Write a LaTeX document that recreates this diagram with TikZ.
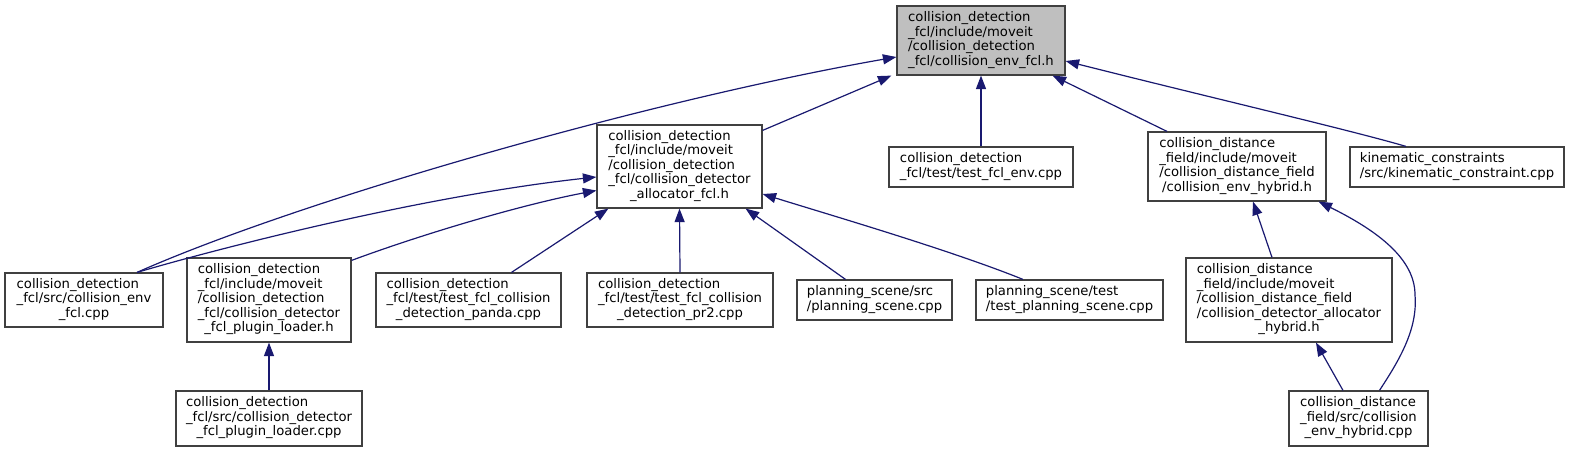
\documentclass[tikz,border=0pt]{standalone}
\usepackage{fontspec}
\setmainfont{DejaVu Sans}
\usetikzlibrary{arrows.meta}
\definecolor{edgecol}{HTML}{191970}
\definecolor{bordercol}{HTML}{404040}
\definecolor{rootfill}{HTML}{BFBFBF}
\newcommand\dlab[2]{\begin{tabular}{@{}l@{}}#1\\\multicolumn{1}{@{}c@{}}{#2}\end{tabular}}
\begin{document}
\begin{tikzpicture}[x=1pt,y=-1pt,
  filebox/.style={draw=bordercol, line width=1.2pt, fill=white, inner sep=0pt, font=\fontsize{13.2}{14.5}\selectfont},
  rootbox/.style={filebox, fill=rootfill},
  dep/.style={draw=edgecol, line width=1.2pt, -{Triangle[length=13.5pt,width=10pt]}}]
\useasboundingbox[fill=white] (0,0) rectangle (1569,452);
% nodes
\node[rootbox, minimum width=168pt, minimum height=69pt] (T) at (981,40.5)
  {\dlab{collision\_detection\\\_fcl/include/moveit\\/collision\_detection}{\_fcl/collision\_env\_fcl.h}};
\node[filebox, minimum width=165pt, minimum height=83pt] (A) at (679.5,166.5)
  {\dlab{collision\_detection\\\_fcl/include/moveit\\/collision\_detection\\\_fcl/collision\_detector}{\_allocator\_fcl.h}};
\node[filebox, minimum width=184pt, minimum height=40pt] (E) at (981,167)
  {\dlab{collision\_detection}{\_fcl/test/test\_fcl\_env.cpp}};
\node[filebox, minimum width=178pt, minimum height=69pt] (H) at (1237,166.5)
  {\dlab{collision\_distance\\\_field/include/moveit\\/collision\_distance\_field}{/collision\_env\_hybrid.h}};
\node[filebox, minimum width=214pt, minimum height=40pt] (K) at (1457,167)
  {\dlab{kinematic\_constraints}{/src/kinematic\_constraint.cpp}};
\node[filebox, minimum width=158pt, minimum height=54pt] (C) at (84,300)
  {\dlab{collision\_detection\\\_fcl/src/collision\_env}{\_fcl.cpp}};
\node[filebox, minimum width=164pt, minimum height=84pt] (P) at (269,300)
  {\dlab{collision\_detection\\\_fcl/include/moveit\\/collision\_detection\\\_fcl/collision\_detector}{\_fcl\_plugin\_loader.h}};
\node[filebox, minimum width=185pt, minimum height=54pt] (PD) at (468.5,300)
  {\dlab{collision\_detection\\\_fcl/test/test\_fcl\_collision}{\_detection\_panda.cpp}};
\node[filebox, minimum width=186pt, minimum height=54pt] (PR) at (680,300)
  {\dlab{collision\_detection\\\_fcl/test/test\_fcl\_collision}{\_detection\_pr2.cpp}};
\node[filebox, minimum width=155pt, minimum height=40pt] (PS) at (874.5,300)
  {\dlab{planning\_scene/src}{/planning\_scene.cpp}};
\node[filebox, minimum width=187pt, minimum height=40pt] (TP) at (1069.5,300)
  {\dlab{planning\_scene/test}{/test\_planning\_scene.cpp}};
\node[filebox, minimum width=206pt, minimum height=84pt] (AH) at (1289,300)
  {\dlab{collision\_distance\\\_field/include/moveit\\/collision\_distance\_field\\/collision\_detector\_allocator}{\_hybrid.h}};
\node[filebox, minimum width=186pt, minimum height=55pt] (PC) at (269,418.5)
  {\dlab{collision\_detection\\\_fcl/src/collision\_detector}{\_fcl\_plugin\_loader.cpp}};
\node[filebox, minimum width=139pt, minimum height=55pt] (HC) at (1358.5,418.5)
  {\dlab{collision\_distance\\\_field/src/collision}{\_env\_hybrid.cpp}};
\coordinate (bend) at (1415,295);
% edges
\draw[dep] ([xshift=53pt]C.north) .. controls (300,200) and (650,100) .. ([yshift=-16.5pt]T.west);
\draw[dep] ([xshift=53pt]C.north) .. controls (230,245) and (430,195) .. ([yshift=-10.5pt]A.west);
\draw[dep] ([yshift=-3pt]P.north east) .. controls (420,235) and (520,205) .. ([yshift=-24pt]A.west);
\draw[dep] ([xshift=43pt]PD.north) -- ([xshift=12pt]A.south west);
\draw[dep] (PR.north) -- (A.south);
\draw[dep] ([xshift=-29pt]PS.north) -- ([xshift=-17pt]A.south east);
\draw[dep] ([xshift=-46.5pt]TP.north) .. controls (950,250) and (830,215) .. ([yshift=-27.5pt]A.east);
\draw[dep] ([yshift=-6pt]A.north east) -- ([xshift=-5pt]T.south west);
\draw[dep] (E.north) -- (T.south);
\draw[dep] ([xshift=-70pt]H.north) -- ([xshift=-13pt]T.south east);
\draw[dep] ([xshift=-51pt]K.north) .. controls (1350,130) and (1200,95) .. ([yshift=-20.5pt]T.east);
\draw[dep] (PC.north) -- (P.south);
\draw[dep] ([xshift=-17pt]AH.north) -- ([xshift=16pt]H.south);
\draw[dep] ([xshift=-15.5pt]HC.north) -- ([xshift=27pt]AH.south);
\draw[dep] ([xshift=21pt]HC.north) .. controls (1398,362) and (1418,330) .. (bend)
  .. controls (1415,260) and (1380,232) .. ([xshift=-8pt]H.south east);
\end{tikzpicture}
\end{document}
